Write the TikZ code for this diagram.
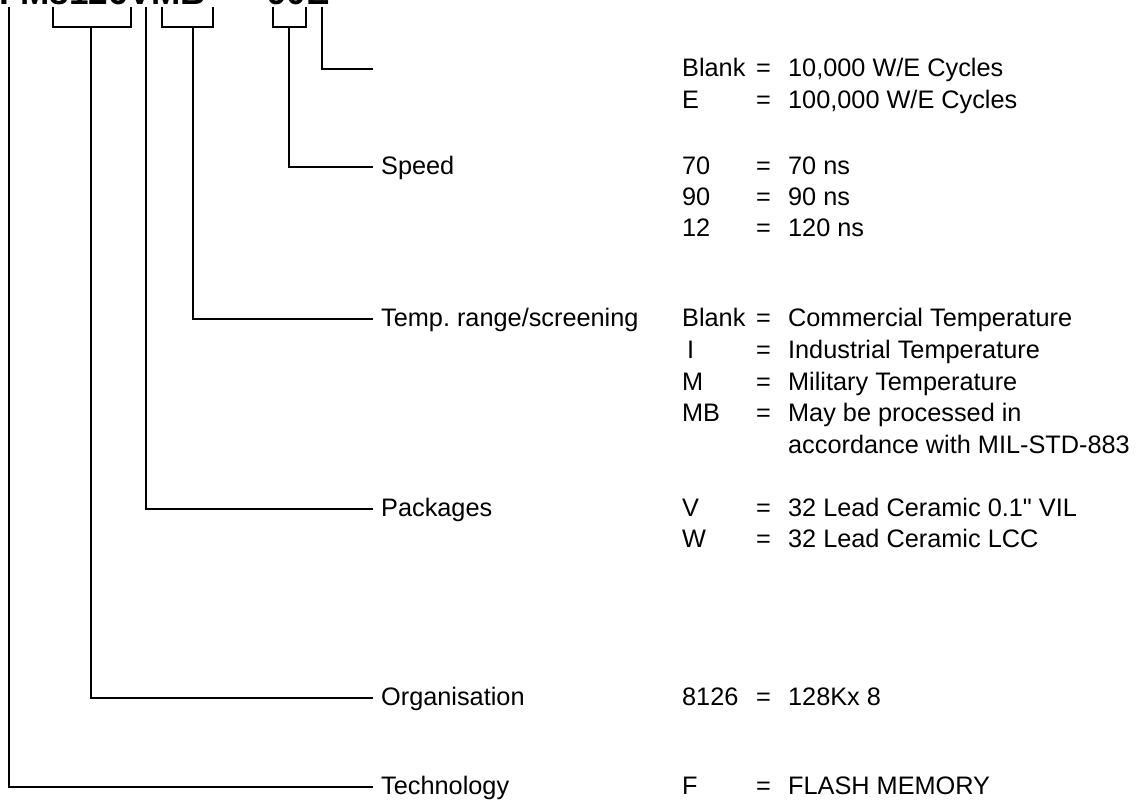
\documentclass[tikz,border=0pt]{standalone}
\usepackage{fontspec}
\setmainfont{Liberation Sans}[Ligatures=TeXOff]
\tikzset{
  txt/.style={font=\fontsize{14.4pt}{17pt}\selectfont, inner sep=0pt, text height=10.3pt, text depth=2pt, anchor=west},
  lab/.style={txt, inner xsep=4pt},
  pn/.style={font=\fontsize{20pt}{24pt}\selectfont\bfseries, inner sep=0pt, anchor=base west},
}
\begin{document}
\begin{tikzpicture}[x=0.02cm,y=-0.02cm,line width=1.3pt]
            \useasboundingbox (0,0) rectangle (1147,799);
            % part number (cut at the top)
            \node[pn] (pn) at (-2,4) {FM8126VMB};
            \node[pn] (pnE) at (266,4) {90E};
            % bracket ends under the part number
            \coordinate (tech) at (9,7);
            \coordinate (orgL) at (53,7);
            \coordinate (orgR) at (131,7);
            \coordinate (org) at (91,27);
            \coordinate (pack) at (146,7);
            \coordinate (tempL) at (162,7);
            \coordinate (tempR) at (213,7);
            \coordinate (temp) at (193,27);
            \coordinate (spdL) at (273,7);
            \coordinate (spdR) at (306,7);
            \coordinate (spd) at (289,27);
            \coordinate (cyc) at (322,7);
            \coordinate (cycEnd) at (373,69);
            % labels
            \node[lab] (spdLab) at (373,167) {Speed};
            \node[lab] (tempLab) at (373,319) {Temp.\ range/screening};
            \node[lab] (packLab) at (373,509) {Packages};
            \node[lab] (orgLab) at (373,698) {Organisation};
            \node[lab] (techLab) at (373,787) {Technology};
            % connectors
            \draw (cyc) |- (cycEnd);
            \draw (spdL) |- (spd) -| (spdR);
            \draw (spd) |- (spdLab.west);
            \draw (tempL) |- (temp) -| (tempR);
            \draw (temp) |- (tempLab.west);
            \draw (pack) |- (packLab.west);
            \draw (orgL) |- (org) -| (orgR);
            \draw (org) |- (orgLab.west);
            \draw (tech) |- (techLab.west);
            % options
            \node[txt] (c1) at (681,69) {Blank};
            \node[txt] (c1e) at (755,69) {=};
            \node[txt] (c1v) at (787,69) {10,000 W/E Cycles};
            \node[txt] (c2) at (681,101) {E};
            \node[txt] (c2e) at (755,101) {=};
            \node[txt] (c2v) at (787,101) {100,000 W/E Cycles};
            \node[txt] (s1) at (681,167) {70};
            \node[txt] (s1e) at (755,167) {=};
            \node[txt] (s1v) at (787,167) {70 ns};
            \node[txt] (s2) at (681,198) {90};
            \node[txt] (s2e) at (755,198) {=};
            \node[txt] (s2v) at (787,198) {90 ns};
            \node[txt] (s3) at (681,229) {12};
            \node[txt] (s3e) at (755,229) {=};
            \node[txt] (s3v) at (787,229) {120 ns};
            \node[txt] (t1) at (681,319) {Blank};
            \node[txt] (t1e) at (755,319) {=};
            \node[txt] (t1v) at (787,319) {Commercial Temperature};
            \node[txt] (t2) at (686,351) {I};
            \node[txt] (t2e) at (755,351) {=};
            \node[txt] (t2v) at (787,351) {Industrial Temperature};
            \node[txt] (t3) at (681,383) {M};
            \node[txt] (t3e) at (755,383) {=};
            \node[txt] (t3v) at (787,383) {Military Temperature};
            \node[txt] (t4) at (681,414) {MB};
            \node[txt] (t4e) at (755,414) {=};
            \node[txt] (t4v) at (787,414) {May be processed in};
            \node[txt] (t4w) at (787,446) {accordance with MIL-STD-883};
            \node[txt] (p1) at (681,509) {V};
            \node[txt] (p1e) at (755,509) {=};
            \node[txt] (p1v) at (787,509) {32 Lead Ceramic 0.1" VIL};
            \node[txt] (p2) at (681,540) {W};
            \node[txt] (p2e) at (755,540) {=};
            \node[txt] (p2v) at (787,540) {32 Lead Ceramic LCC};
            \node[txt] (o1) at (681,698) {8126};
            \node[txt] (o1e) at (755,698) {=};
            \node[txt] (o1v) at (787,698) {128Kx 8};
            \node[txt] (f1) at (681,787) {F};
            \node[txt] (f1e) at (755,787) {=};
            \node[txt] (f1v) at (787,787) {FLASH MEMORY};
        \end{tikzpicture}
\end{document}
